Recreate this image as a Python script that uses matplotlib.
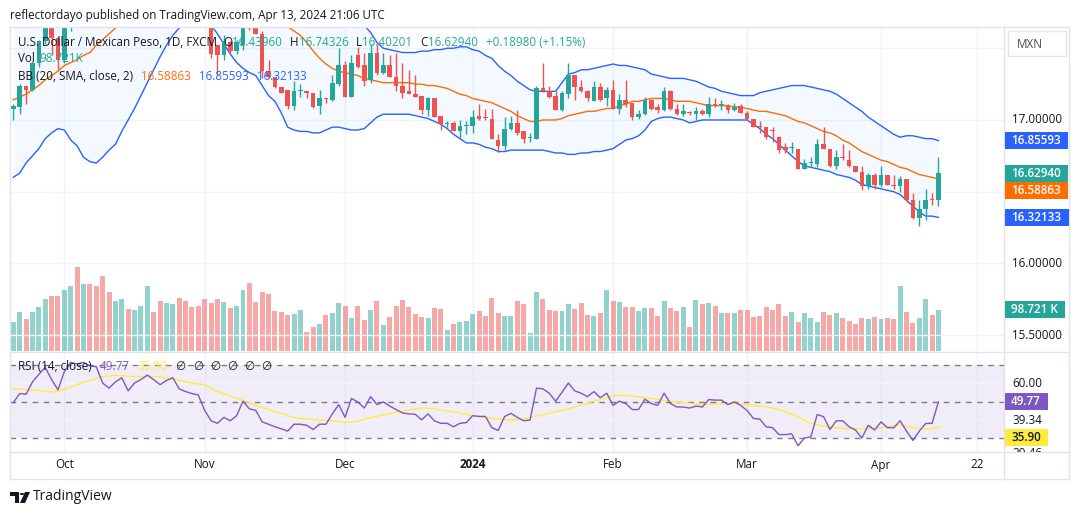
import numpy as np
import pandas as pd
import matplotlib
matplotlib.use('Agg')
import matplotlib.pyplot as plt
from matplotlib.lines import Line2D
from matplotlib.patches import Rectangle, Circle, Polygon
from matplotlib.transforms import blended_transform_factory, Bbox, TransformedBbox

# USD/MXN daily candles, 2023-09-20 .. 2024-04-12
opens = [
    17.08, 17.09, 17.24, 17.21, 17.40, 17.55, 17.72, 17.57, 17.42, 17.70,
    18.08, 18.03, 18.20, 18.14, 18.11, 17.90, 17.80, 17.90, 17.98, 17.80,
    17.90, 17.98, 18.10, 18.02, 17.92, 18.00, 18.06, 17.90, 17.86, 17.83,
    17.81, 17.70, 17.52, 17.45, 17.54, 17.48, 17.52, 17.66, 17.64, 17.60,
    17.34, 17.30, 17.23, 17.21, 17.10, 17.20, 17.20, 17.19, 17.10, 17.15,
    17.14, 17.25, 17.38, 17.16, 17.45, 17.38, 17.28, 17.47, 17.33, 17.38,
    17.30, 17.24, 17.20, 17.18, 17.17, 17.07, 17.15, 17.03, 16.975, 16.98,
    16.92, 16.960, 16.96, 17.03, 17.013, 17.01, 16.86, 16.82, 16.94, 16.98,
    16.92, 16.877, 16.87, 17.22, 17.20, 17.17, 17.07, 17.18, 17.31, 17.23,
    17.20, 17.13, 17.23, 17.15, 17.21, 17.08, 17.14, 17.12, 17.02, 17.04,
    17.14, 17.09, 17.07, 17.20, 17.08, 17.04, 17.053, 17.04, 17.06, 17.04,
    17.11, 17.101, 17.10, 17.07, 17.10, 17.05, 17.01, 16.96, 16.95, 16.93,
    16.88, 16.81, 16.802, 16.80, 16.66, 16.701, 16.69, 16.83, 16.80, 16.68,
    16.742, 16.72, 16.68, 16.64, 16.54, 16.62, 16.55, 16.62, 16.55, 16.54,
    16.59, 16.44, 16.32, 16.38, 16.447, 16.4396,
]
highs = [
    17.11, 17.25, 17.24, 17.41, 17.56, 17.78, 17.76, 17.58, 17.76, 18.12,
    18.40, 18.25, 18.28, 18.22, 18.15, 17.98, 17.95, 18.02, 18.00, 17.95,
    18.02, 18.15, 18.14, 18.06, 18.05, 18.12, 18.10, 17.95, 17.92, 17.90,
    17.84, 17.74, 17.53, 17.59, 17.55, 17.56, 17.70, 17.70, 17.65, 17.62,
    17.42, 17.30, 17.23, 17.21, 17.27, 17.25, 17.20, 17.19, 17.21, 17.15,
    17.31, 17.50, 17.41, 17.45, 17.51, 17.47, 17.53, 17.52, 17.47, 17.45,
    17.47, 17.40, 17.35, 17.31, 17.17, 17.16, 17.15, 17.03, 16.995, 16.995,
    17.00, 16.99, 17.07, 17.11, 17.08, 17.08, 16.90, 17.02, 17.03, 17.07,
    16.92, 16.91, 17.24, 17.40, 17.24, 17.20, 17.20, 17.40, 17.31, 17.28,
    17.21, 17.27, 17.26, 17.23, 17.28, 17.18, 17.28, 17.12, 17.07, 17.16,
    17.14, 17.11, 17.23, 17.21, 17.11, 17.11, 17.065, 17.09, 17.08, 17.16,
    17.15, 17.14, 17.11, 17.12, 17.11, 17.06, 17.01, 16.99, 16.95, 16.95,
    16.89, 16.84, 16.85, 16.80, 16.73, 16.74, 16.87, 16.95, 16.80, 16.79,
    16.83, 16.79, 16.68, 16.68, 16.63, 16.63, 16.68, 16.62, 16.62, 16.61,
    16.59, 16.49, 16.44, 16.52, 16.49, 16.74326,
]
lows = [
    17.00, 17.04, 17.11, 17.20, 17.37, 17.53, 17.45, 17.35, 17.40, 17.62,
    17.98, 17.95, 18.08, 18.05, 17.85, 17.75, 17.76, 17.85, 17.75, 17.78,
    17.85, 17.92, 17.98, 17.88, 17.88, 17.95, 17.86, 17.82, 17.78, 17.76,
    17.66, 17.43, 17.31, 17.42, 17.47, 17.46, 17.49, 17.63, 17.60, 17.29,
    17.29, 17.22, 17.185, 17.08, 17.07, 17.16, 17.15, 17.085, 17.04, 17.12,
    17.13, 17.24, 17.16, 17.16, 17.36, 17.24, 17.26, 17.31, 17.32, 17.30,
    17.20, 17.15, 17.18, 17.16, 17.04, 17.03, 17.02, 16.93, 16.95, 16.92,
    16.87, 16.90, 16.91, 17.00, 17.00, 16.87, 16.78, 16.79, 16.93, 16.895,
    16.84, 16.85, 16.87, 17.195, 17.15, 17.07, 17.06, 17.15, 17.14, 17.195,
    17.13, 17.13, 17.13, 17.10, 17.08, 17.04, 17.09, 17.00, 17.01, 17.035,
    17.07, 17.05, 17.065, 17.07, 17.035, 17.03, 17.035, 17.00, 17.035, 17.02,
    17.09, 17.07, 17.05, 17.06, 17.05, 17.00, 16.95, 16.91, 16.865, 16.85,
    16.77, 16.77, 16.77, 16.66, 16.66, 16.675, 16.675, 16.80, 16.675, 16.66,
    16.72, 16.675, 16.64, 16.51, 16.52, 16.52, 16.535, 16.547, 16.52, 16.50,
    16.43, 16.31, 16.26, 16.30, 16.41, 16.40201,
]
closes = [
    17.10, 17.24, 17.21, 17.40, 17.55, 17.72, 17.57, 17.42, 17.70, 18.08,
    18.03, 18.20, 18.14, 18.11, 17.90, 17.80, 17.90, 17.98, 17.80, 17.90,
    17.98, 18.10, 18.02, 17.92, 18.00, 18.06, 17.90, 17.86, 17.83, 17.81,
    17.70, 17.46, 17.45, 17.55, 17.48, 17.54, 17.66, 17.64, 17.60, 17.34,
    17.30, 17.23, 17.19, 17.10, 17.20, 17.202, 17.19, 17.09, 17.15, 17.144,
    17.26, 17.38, 17.16, 17.40, 17.37, 17.27, 17.47, 17.33, 17.38, 17.30,
    17.24, 17.19, 17.18, 17.16, 17.07, 17.15, 17.02, 16.97, 16.977, 16.92,
    16.96, 16.963, 17.02, 17.01, 17.011, 16.87, 16.82, 16.94, 16.98, 16.91,
    16.87, 16.879, 17.22, 17.20, 17.16, 17.07, 17.19, 17.31, 17.23, 17.20,
    17.15, 17.23, 17.14, 17.21, 17.08, 17.14, 17.11, 17.02, 17.04, 17.14,
    17.08, 17.07, 17.20, 17.08, 17.04, 17.06, 17.050, 17.06, 17.04, 17.11,
    17.10, 17.103, 17.07, 17.09, 17.05, 17.01, 16.95, 16.95, 16.88, 16.92,
    16.79, 16.79, 16.804, 16.66, 16.70, 16.703, 16.83, 16.80, 16.68, 16.74,
    16.738, 16.68, 16.64, 16.54, 16.62, 16.55, 16.62, 16.55, 16.54, 16.59,
    16.44, 16.32, 16.38, 16.44, 16.4396, 16.6294,
]
# volume, thousands
volumes = [
    69.9, 92.1, 76.5, 92.1, 106.1, 123.4, 130.8, 130.8, 145.6, 156.3,
    199.9, 161.2, 161.2, 156.3, 180.2, 141.5, 118.5, 123.4, 101.2, 98.7,
    108.6, 156.3, 92.1, 118.5, 113.5, 111.1, 125.9, 118.5, 106.1, 108.6,
    123.4, 113.5, 123.4, 116.0, 103.7, 108.6, 145.6, 162.9, 116.0, 140.7,
    135.7, 96.3, 93.8, 86.4, 88.9, 98.7, 45.2, 56.8, 64.2, 86.4,
    91.3, 113.5, 108.6, 79.0, 108.6, 74.0, 98.7, 118.5, 61.7, 81.4,
    108.6, 120.9, 106.1, 88.9, 81.4, 79.0, 103.7, 101.2, 49.4, 64.2,
    69.1, 71.6, 88.9, 96.3, 83.9, 125.9, 91.3, 83.9, 83.9, 118.5,
    111.1, 42.0, 140.7, 123.4, 98.7, 96.3, 96.3, 111.1, 101.2, 113.5,
    86.4, 83.9, 91.3, 145.6, 118.5, 116.0, 106.1, 106.1, 96.3, 103.7,
    103.7, 83.9, 118.5, 103.7, 96.3, 106.1, 56.8, 120.9, 111.1, 113.5,
    108.6, 91.3, 91.3, 91.3, 98.7, 98.7, 81.4, 83.9, 106.1, 98.7,
    111.1, 83.9, 93.8, 69.1, 91.3, 79.0, 69.1, 93.8, 86.4, 91.3,
    79.0, 71.6, 64.2, 79.0, 76.5, 81.4, 76.5, 79.0, 76.5, 155.5,
    93.8, 66.6, 79.0, 123.4, 86.4, 98.721,
]
# Bollinger Bands (20, SMA, close, 2)
bb_basis = [
    17.14, 17.16, 17.18, 17.21, 17.24, 17.28, 17.31, 17.34, 17.38, 17.40,
    17.42, 17.45, 17.47, 17.52, 17.56, 17.60, 17.64, 17.68, 17.72, 17.76,
    17.80, 17.84, 17.88, 17.91, 17.94, 17.96, 17.98, 17.99, 18.00, 18.00,
    17.99, 17.98, 17.96, 17.94, 17.92, 17.90, 17.87, 17.84, 17.81, 17.78,
    17.75, 17.72, 17.69, 17.65, 17.62, 17.59, 17.54, 17.48, 17.43, 17.39,
    17.36, 17.34, 17.33, 17.32, 17.31, 17.29, 17.28, 17.27, 17.26, 17.26,
    17.26, 17.26, 17.26, 17.25, 17.25, 17.24, 17.24, 17.23, 17.22, 17.20,
    17.18, 17.17, 17.15, 17.14, 17.13, 17.12, 17.10, 17.08, 17.06, 17.03,
    17.01, 16.99, 16.99, 17.00, 17.00, 17.00, 17.01, 17.03, 17.04, 17.05,
    17.06, 17.06, 17.07, 17.08, 17.08, 17.10, 17.11, 17.13, 17.13, 17.14,
    17.15, 17.15, 17.15, 17.14, 17.13, 17.13, 17.13, 17.12, 17.11, 17.10,
    17.10, 17.10, 17.10, 17.09, 17.09, 17.08, 17.07, 17.06, 17.06, 17.05,
    17.04, 17.03, 17.01, 16.99, 16.98, 16.96, 16.94, 16.92, 16.91, 16.89,
    16.86, 16.84, 16.81, 16.78, 16.76, 16.74, 16.72, 16.71, 16.69, 16.67,
    16.66, 16.64, 16.62, 16.61, 16.60, 16.58863,
]
bb_upper = [
    17.66, 17.69, 17.66, 17.67, 17.68, 17.69, 17.71, 17.74, 17.83, 17.94,
    18.02, 18.16, 18.23, 18.34, 18.38, 18.41, 18.45, 18.44, 18.44, 18.44,
    18.43, 18.42, 18.41, 18.38, 18.36, 18.33, 18.32, 18.28, 18.26, 18.26,
    18.28, 18.30, 18.32, 18.35, 18.38, 18.40, 18.38, 18.35, 18.31, 18.32,
    18.33, 18.31, 18.33, 18.35, 18.31, 18.26, 18.16, 18.05, 17.95, 17.85,
    17.77, 17.73, 17.72, 17.71, 17.69, 17.66, 17.61, 17.54, 17.50, 17.49,
    17.48, 17.47, 17.47, 17.47, 17.48, 17.48, 17.49, 17.49, 17.50, 17.50,
    17.51, 17.51, 17.49, 17.48, 17.45, 17.43, 17.38, 17.34, 17.31, 17.27,
    17.24, 17.21, 17.20, 17.20, 17.20, 17.20, 17.26, 17.32, 17.33, 17.35,
    17.35, 17.36, 17.37, 17.38, 17.39, 17.38, 17.38, 17.37, 17.36, 17.35,
    17.32, 17.31, 17.30, 17.29, 17.29, 17.29, 17.28, 17.27, 17.25, 17.23,
    17.22, 17.20, 17.19, 17.18, 17.17, 17.17, 17.17, 17.19, 17.20, 17.21,
    17.22, 17.23, 17.24, 17.24, 17.24, 17.23, 17.22, 17.21, 17.20, 17.18,
    17.15, 17.12, 17.09, 17.06, 17.02, 16.99, 16.96, 16.93, 16.90, 16.88,
    16.89, 16.89, 16.88, 16.87, 16.87, 16.85593,
]
bb_lower = [
    16.60, 16.63, 16.70, 16.75, 16.80, 16.87, 16.91, 16.94, 16.93, 16.86,
    16.82, 16.74, 16.71, 16.70, 16.74, 16.79, 16.83, 16.92, 17.00, 17.08,
    17.17, 17.26, 17.35, 17.44, 17.52, 17.59, 17.64, 17.70, 17.74, 17.74,
    17.70, 17.66, 17.60, 17.53, 17.46, 17.40, 17.36, 17.33, 17.31, 17.24,
    17.17, 17.13, 17.05, 16.95, 16.93, 16.92, 16.92, 16.91, 16.91, 16.93,
    16.95, 16.95, 16.94, 16.93, 16.93, 16.94, 16.98, 17.02, 17.04, 17.04,
    17.04, 17.04, 17.04, 17.03, 17.02, 17.01, 16.99, 16.97, 16.94, 16.90,
    16.87, 16.84, 16.84, 16.83, 16.81, 16.80, 16.78, 16.78, 16.79, 16.79,
    16.79, 16.79, 16.79, 16.79, 16.78, 16.77, 16.77, 16.76, 16.76, 16.77,
    16.77, 16.78, 16.78, 16.79, 16.80, 16.83, 16.86, 16.87, 16.89, 16.93,
    16.99, 17.01, 17.02, 17.02, 17.01, 17.00, 16.98, 16.99, 17.00, 17.00,
    17.00, 17.00, 17.00, 17.00, 17.00, 17.00, 16.97, 16.94, 16.90, 16.87,
    16.83, 16.79, 16.75, 16.71, 16.68, 16.67, 16.66, 16.65, 16.64, 16.62,
    16.61, 16.60, 16.58, 16.55, 16.54, 16.53, 16.52, 16.51, 16.50, 16.48,
    16.44, 16.40, 16.36, 16.33, 16.33, 16.32133,
]
# RSI (14, close) and its 14-bar MA
rsi = [
    49.4, 54.4, 54.0, 60.8, 65.0, 68.8, 62.1, 56.5, 66.5, 71.6,
    70.7, 71.6, 69.7, 69.2, 60.2, 57.4, 60.8, 63.1, 55.9, 60.2,
    62.1, 64.6, 62.1, 59.3, 61.6, 63.1, 57.0, 55.5, 54.4, 53.6,
    45.1, 39.4, 38.0, 41.3, 39.4, 42.2, 50.2, 46.0, 45.1, 38.8,
    37.5, 36.1, 35.0, 33.7, 37.5, 37.5, 36.9, 34.6, 37.5, 37.5,
    43.2, 48.3, 41.3, 51.7, 49.8, 46.4, 52.7, 48.3, 49.8, 47.5,
    45.6, 43.7, 43.2, 43.0, 39.9, 43.2, 39.4, 38.0, 38.0, 36.1,
    38.0, 38.4, 42.2, 41.8, 41.8, 35.6, 34.1, 41.7, 43.5, 41.3,
    39.4, 39.8, 57.4, 57.0, 54.6, 50.2, 55.1, 60.2, 55.9, 54.6,
    52.7, 55.5, 52.1, 54.6, 47.9, 50.2, 48.9, 45.6, 45.6, 51.3,
    48.9, 47.9, 54.6, 48.9, 47.0, 47.0, 46.4, 47.5, 47.0, 51.1,
    50.8, 50.8, 48.3, 49.8, 47.9, 45.1, 40.7, 40.3, 36.1, 35.6,
    31.8, 31.8, 32.2, 25.7, 29.9, 30.5, 42.8, 41.7, 34.6, 39.4,
    39.4, 36.1, 34.3, 29.9, 36.9, 34.3, 38.8, 35.6, 35.6, 39.4,
    33.7, 28.6, 33.7, 37.9, 38.0, 49.77,
]
rsi_ma = [
    57.0, 56.8, 56.6, 56.3, 56.1, 55.7, 55.3, 55.8, 56.6, 58.0,
    59.3, 60.5, 61.6, 62.7, 63.7, 64.1, 64.4, 64.2, 64.0, 63.7,
    63.5, 63.7, 63.9, 63.5, 63.1, 62.4, 61.6, 60.8, 60.1, 59.7,
    59.3, 57.4, 55.5, 54.2, 53.0, 51.8, 50.6, 49.2, 47.9, 46.7,
    45.6, 44.5, 43.5, 42.3, 41.1, 40.7, 40.3, 40.0, 39.8, 39.6,
    39.4, 39.0, 38.6, 38.9, 39.2, 40.1, 41.1, 41.8, 42.6, 43.3,
    44.1, 44.7, 45.4, 45.9, 46.4, 46.2, 46.0, 45.4, 44.9, 44.3,
    43.7, 42.9, 42.2, 41.6, 41.1, 40.7, 40.3, 40.0, 39.8, 40.0,
    40.3, 41.2, 42.2, 42.6, 43.5, 44.5, 45.2, 46.0, 47.0, 47.9,
    49.0, 50.2, 51.1, 52.1, 52.9, 53.6, 53.3, 53.0, 52.5, 52.1,
    51.6, 51.1, 50.6, 50.2, 49.8, 49.4, 49.0, 48.7, 48.6, 48.5,
    48.6, 48.7, 48.8, 48.9, 48.6, 48.3, 47.9, 47.5, 47.0, 46.4,
    45.5, 44.5, 43.1, 41.7, 39.8, 38.0, 37.2, 36.5, 36.0, 35.6,
    35.3, 35.0, 35.0, 35.0, 35.2, 35.4, 35.7, 36.1, 36.6, 37.1,
    36.5, 35.8, 35.1, 35.0, 35.1, 35.90,
]

tick_dates = ['2023-10-02', '2023-11-01', '2023-12-01', '2024-01-02',
              '2024-02-01', '2024-03-01', '2024-04-01', '2024-04-22']
tick_labels = ['Oct', 'Nov', 'Dec', '2024', 'Feb', 'Mar', 'Apr', '22']
price_labels = [17.0, 16.0, 15.5]
price_grid = [17.5, 17.0, 16.5, 16.0, 15.5]
rsi_labels = [60.0, 39.34]

W, H = 1080, 515
UP, DOWN = '#26a69a', '#ef5350'
TEXT = '#131722'
GRID = '#f0f3fa'
BORDER = '#e0e3eb'
BLUE, ORANGE = '#2962ff', '#ff6d00'
PURPLE, YELLOW = '#7e57c2', '#ffeb3b'
FS = 8.4

plt.rcParams['font.family'] = ['Open Sans', 'DejaVu Sans']

holidays = pd.to_datetime(['2023-12-25', '2024-01-01'])
calendar = pd.bdate_range('2023-09-20', '2024-04-30').drop(holidays)
dates = calendar[calendar <= '2024-04-12']
x = np.arange(len(dates))
tick_pos = [calendar.get_loc(pd.Timestamp(d)) for d in tick_dates]

opens, highs, lows, closes = map(np.array, (opens, highs, lows, closes))


def rect(x0, y0, x1, y1):
    # pixel box (top-left origin) -> figure fraction
    return [x0 / W, 1 - y1 / H, (x1 - x0) / W, (y1 - y0) / H]


fig = plt.figure(figsize=(W / 100, H / 100), dpi=100)
fig.patch.set_facecolor('white')

PL, PR = 10, 1004
ax_vol = fig.add_axes(rect(PL, 27, PR, 351))
ax = fig.add_axes(rect(PL, 27, PR, 351), sharex=ax_vol)
ax_rsi = fig.add_axes(rect(PL, 352, PR, 452), sharex=ax_vol)
ax.patch.set_alpha(0)
for a in (ax_vol, ax, ax_rsi):
    a.set_axis_off()
ax_vol.set_xlim(-0.52, 155.28)
ax.set_ylim(15.39, 17.648)
ax_vol.set_ylim(0, 774)
ax_rsi.set_ylim(22.2, 77.3)

# grid ########
for p in tick_pos:
    ax_vol.axvline(p, color=GRID, lw=1, zorder=0)
    ax_rsi.axvline(p, color=GRID, lw=1, zorder=0)
for p in price_grid:
    ax.axhline(p, color=GRID, lw=1, zorder=0)

# volume ########
up = closes >= opens
colors = np.where(up, UP, DOWN)
ax_vol.bar(x, volumes, width=0.78, color=colors, alpha=0.5, lw=0, zorder=2)

# bollinger bands ########
ax.fill_between(x, bb_lower, bb_upper, color='#2196f3', alpha=0.05, lw=0, zorder=1)
ax.plot(x, bb_upper, color=BLUE, lw=1, zorder=2)
ax.plot(x, bb_lower, color=BLUE, lw=1, zorder=2)
ax.plot(x, bb_basis, color=ORANGE, lw=1, zorder=2)

# candles ########
ax.vlines(x, lows, highs, colors=colors, lw=1, zorder=3)
body_h = np.maximum(np.abs(closes - opens), 0.007)
ax.bar(x, body_h, bottom=np.minimum(opens, closes), width=0.72,
       color=colors, lw=0, zorder=4)

# rsi ########
ax_rsi.axhspan(30, 70, color=PURPLE, alpha=0.1, lw=0, zorder=0)
for v in (60, 40):
    ax_rsi.axhline(v, color=GRID, lw=1, zorder=0.5)
for v in (70, 50, 30):
    ax_rsi.axhline(v, color='#787b86', lw=1, ls=(0, (4, 4)), zorder=1)
ax_rsi.plot(x, rsi, color=PURPLE, lw=1, zorder=3)
ax_rsi.plot(x, rsi_ma, color=YELLOW, lw=1, zorder=2)


# frame ########
def hline(y, x0=PL, x1=1069, color=BORDER):
    fig.add_artist(Line2D([x0 / W, x1 / W], [1 - y / H, 1 - y / H], color=color, lw=1))


def vline(xp, y0=27, y1=479, color=BORDER):
    fig.add_artist(Line2D([xp / W, xp / W], [1 - y0 / H, 1 - y1 / H], color=color, lw=1))


hline(27)
hline(351.5)
hline(452)
hline(479)
vline(PL)
vline(PR)
vline(1069)

renderer = fig.canvas.get_renderer()


def py(axis, v):
    return H - axis.transData.transform((0, v))[1]


def free_y(taken, y, h=17):
    # push a scale label down until it clears the ones already placed
    moved = True
    while moved:
        moved = False
        for a, b in taken:
            if y - h / 2 < b and y + h / 2 > a:
                y = b + h / 2
                moved = True
    taken.append((y - h / 2, y + h / 2))
    return y


def tag(taken, axis, v, label, fc, tc='white'):
    y = free_y(taken, py(axis, v))
    t = fig.text(1011 / W, 1 - y / H, label, color=tc, fontsize=FS,
                 fontweight='semibold', ha='left', va='center', zorder=6)
    w = t.get_window_extent(renderer).width
    fig.add_artist(Rectangle(((PR + 0.5) / W, 1 - (y + 8.5) / H), (w + 14) / W, 17 / H,
                             transform=fig.transFigure, fc=fc, ec='none', zorder=5))


# price scale
price_taken = []
for p in price_labels:
    fig.text(1012 / W, 1 - py(ax, p) / H, f'{p:.5f}', color=TEXT, fontsize=FS,
             ha='left', va='center')
tag(price_taken, ax, bb_upper[-1], f'{bb_upper[-1]:.5f}', BLUE)
tag(price_taken, ax, closes[-1], f'{closes[-1]:.5f}', UP)
tag(price_taken, ax, bb_basis[-1], f'{bb_basis[-1]:.5f}', ORANGE)
tag(price_taken, ax, bb_lower[-1], f'{bb_lower[-1]:.5f}', BLUE)
tag([], ax_vol, volumes[-1], f'{volumes[-1]:.3f} K', UP)
fig.add_artist(Rectangle((1008 / W, 1 - 56 / H), 58 / W, 25 / H, transform=fig.transFigure,
                         fc='white', ec=BORDER, lw=1))
fig.text(1017 / W, 1 - 44 / H, 'MXN', color='#4a4a4a', fontsize=FS, ha='left', va='center')

# rsi scale
rsi_taken = []
for v in rsi_labels:
    y = py(ax_rsi, v)
    rsi_taken.append((y - 8.5, y + 8.5))
    fig.text(1012 / W, 1 - y / H, f'{v:.2f}', color=TEXT, fontsize=FS,
             ha='left', va='center')
t = fig.text(1012 / W, 1 - py(ax_rsi, 21.6) / H, '29.46', color=TEXT, fontsize=FS,
             ha='left', va='center')
t.set_clip_box(TransformedBbox(Bbox([[PR / W, 1 - 452 / H], [1069 / W, 1 - 352 / H]]),
                               fig.transFigure))
tag(rsi_taken, ax_rsi, rsi[-1], f'{rsi[-1]:.2f}', PURPLE)
tag(rsi_taken, ax_rsi, rsi_ma[-1], f'{rsi_ma[-1]:.2f}', YELLOW, tc=TEXT)

# time axis
tr = blended_transform_factory(ax_rsi.transData, fig.transFigure)
for p, lab in zip(tick_pos, tick_labels):
    fig.text(p, 1 - 465 / H, lab, transform=tr, color=TEXT, fontsize=FS, ha='center',
             va='center', fontweight='bold' if len(lab) == 4 else 'normal')


# legends ########
def runs(y, x0, parts):
    xp = x0
    for s, color, gap in parts:
        t = fig.text(xp / W, 1 - y / H, s, color=color, fontsize=FS, ha='left',
                     va='center', zorder=7)
        xp += t.get_window_extent(renderer).width + gap


runs(15, 10, [('reflectordayo published on TradingView.com, Apr 13, 2024 21:06 UTC', TEXT, 0)])
change = closes[-1] - closes[-2]
runs(42, 18, [('U.S. Dollar / Mexican Peso, 1D, FXCM', TEXT, 6),
              ('O', TEXT, 0), (f'{opens[-1]:.5f}', UP, 8),
              ('H', TEXT, 0), (f'{highs[-1]:.5f}', UP, 8),
              ('L', TEXT, 0), (f'{lows[-1]:.5f}', UP, 8),
              ('C', TEXT, 0), (f'{closes[-1]:.5f}', UP, 8),
              (f'+{change:.5f} (+{change / closes[-2] * 100:.2f}%)', UP, 0)])
runs(59, 18, [('Vol', TEXT, 5), (f'{volumes[-1]:.3f}K', UP, 0)])
runs(76, 18, [('BB (20, SMA, close, 2)', TEXT, 8),
              (f'{bb_basis[-1]:.5f}', ORANGE, 8),
              (f'{bb_upper[-1]:.5f}', BLUE, 8),
              (f'{bb_lower[-1]:.5f}', BLUE, 0)])
runs(366, 18, [('RSI (14, close)', TEXT, 8), (f'{rsi[-1]:.2f}', PURPLE, 8),
               (f'{rsi_ma[-1]:.2f}', YELLOW, 8)] +
     [('\u2205', TEXT, 7)] * 6)

# logo ########
fig.add_artist(Rectangle((10 / W, 1 - 496 / H), 9 / W, 4 / H, transform=fig.transFigure,
                         fc=TEXT, ec='none'))
fig.add_artist(Rectangle((15 / W, 1 - 503 / H), 4 / W, 11 / H, transform=fig.transFigure,
                         fc=TEXT, ec='none'))
fig.add_artist(Circle((22 / W, 1 - 494 / H), 2.2 / W, transform=fig.transFigure,
                      fc=TEXT, ec='none'))
fig.add_artist(Polygon([(25 / W, 1 - 492 / H), (30 / W, 1 - 492 / H), (25 / W, 1 - 503 / H),
                        (20 / W, 1 - 503 / H)], transform=fig.transFigure, fc=TEXT, ec='none'))
fig.text(33 / W, 1 - 497 / H, 'TradingView', color=TEXT, fontsize=10, ha='left', va='center')

fig.savefig('out.png', dpi=100)
